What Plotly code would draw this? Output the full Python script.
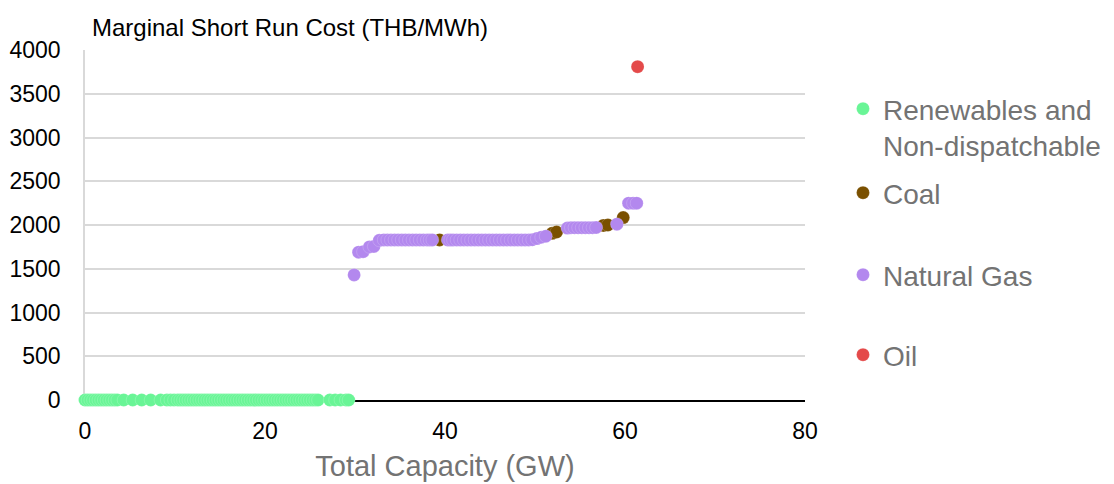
import plotly.graph_objects as go

# ---- data (GW, THB/MWh) ----
ren_x = [0.0, 0.3, 0.6, 0.9, 1.2, 1.5, 1.8, 2.1, 2.4, 2.7, 3.0, 3.3, 3.6,
         4.3, 5.3, 6.3, 7.3, 8.4,
         9.1, 9.5, 9.9, 10.3, 10.6, 10.9, 11.2, 11.5, 11.8, 12.1, 12.4, 12.7,
         13.0, 13.3, 13.6, 13.9, 14.2, 14.5, 14.8, 15.1, 15.4, 15.7, 16.0,
         16.3, 16.6, 16.9, 17.2, 17.5, 17.8, 18.1, 18.4, 18.7, 19.0, 19.3,
         19.6, 19.9, 20.2, 20.5, 20.8, 21.1, 21.4, 21.7, 22.0, 22.3, 22.6,
         22.9, 23.2, 23.5, 23.8, 24.1, 24.4, 24.7, 25.0, 25.3, 25.6, 25.9,
         27.2, 27.8, 28.4, 29.0, 29.3]
ren_y = [0] * len(ren_x)

coal_x = [39.4, 51.9, 52.4, 57.6, 58.1, 59.8]
coal_y = [1830, 1905, 1920, 1995, 2000, 2085]

gas_x = [29.9, 30.4, 30.9, 31.6, 32.1, 32.7,
         33.2, 33.6, 34.0, 34.4, 34.8, 35.2, 35.6, 36.0, 36.4, 36.8, 37.2,
         37.6, 38.0, 38.3, 38.6,
         40.3, 40.6, 40.9, 41.3, 41.7, 42.1, 42.5, 42.9, 43.3, 43.7, 44.1,
         44.5, 44.9, 45.3, 45.7, 46.1, 46.5, 46.9, 47.3, 47.7, 48.1, 48.5,
         48.9, 49.3, 49.7,
         50.2, 50.7, 51.2,
         53.6, 54.0, 54.4, 54.8, 55.2, 55.6, 56.0, 56.4, 56.8,
         59.1,
         60.4, 60.9, 61.3]
gas_y = [1430, 1690, 1695, 1750, 1755, 1825,
         1830, 1830, 1830, 1830, 1830, 1830, 1830, 1830, 1830, 1830, 1830,
         1830, 1830, 1830, 1830,
         1830, 1830, 1830, 1830, 1830, 1830, 1830, 1830, 1830, 1830, 1830,
         1830, 1830, 1830, 1830, 1830, 1830, 1830, 1830, 1830, 1830, 1830,
         1830, 1830, 1832,
         1845, 1860, 1872,
         1965, 1970, 1970, 1970, 1970, 1970, 1970, 1970, 1972,
         2010,
         2250, 2250, 2250]

oil_x = [61.4]
oil_y = [3810]

x_ticks = [0, 20, 40, 60, 80]
y_ticks = [0, 500, 1000, 1500, 2000, 2500, 3000, 3500, 4000]

# ---- styling ----
FONT = "Liberation Sans, Arial, sans-serif"
GREY_TXT = "#737373"
L, R, T, B = 85, 309, 50, 84
W, H = 1114, 484
PW, PH = W - L - R, H - T - B

def py(pix):
    return (H - B - pix) / PH

def px(pix):
    return (pix - L) / PW

series = [
    ("Renewables and<br>Non-dispatchable", ren_x, ren_y, "#69F596", "legend", 127),
    ("Coal", coal_x, coal_y, "#7A5000", "legend2", 193),
    ("Natural Gas", gas_x, gas_y, "#B388EE", "legend3", 275),
    ("Oil", oil_x, oil_y, "#E44A4A", "legend4", 355),
]

fig = go.Figure()
for name, xs, ys, col, leg, _ in series:
    fig.add_trace(go.Scatter(
        x=xs, y=ys, mode="markers", name=name, legend=leg,
        cliponaxis=False,
        marker=dict(size=13, color=col,
                    line=dict(width=0.5, color="rgba(255,255,255,0.35)")),
    ))

legend_common = dict(
    font=dict(family=FONT, size=28, color=GREY_TXT),
    bgcolor="rgba(0,0,0,0)", borderwidth=0,
    xanchor="left", yanchor="middle", valign="top",
    itemsizing="trace",
)
layout_legends = {}
for name, xs, ys, col, leg, ypix in series:
    layout_legends[leg] = dict(legend_common, x=px(843), y=py(ypix))

fig.update_layout(
    width=W, height=H,
    margin=dict(l=L, r=R, t=T, b=B, autoexpand=False),
    paper_bgcolor="white", plot_bgcolor="white",
    font=dict(family=FONT, color="black"),
    showlegend=True,
    **layout_legends,
    xaxis=dict(
        range=[0, 80], tickvals=x_ticks, ticktext=[str(v) for v in x_ticks],
        showgrid=False, zeroline=False, automargin=False,
        showline=True, linecolor="black", linewidth=1.5,
        ticks="", ticklabelstandoff=10,
        tickfont=dict(family=FONT, size=23, color="black"),
        title=dict(text="Total Capacity (GW)", standoff=12,
                   font=dict(family=FONT, size=29, color=GREY_TXT)),
        layer="below traces",
    ),
    yaxis=dict(
        range=[0, 4000], tickvals=y_ticks, ticktext=[str(v) for v in y_ticks],
        showgrid=True, gridcolor="#d9d9d9", gridwidth=1.5, automargin=False,
        zeroline=False, showline=True, linecolor="#d9d9d9", linewidth=1.5,
        ticks="", ticklabelstandoff=18,
        tickfont=dict(family=FONT, size=23, color="black"),
        layer="below traces",
    ),
    annotations=[dict(
        text="Marginal Short Run Cost (THB/MWh)",
        xref="paper", yref="paper", x=px(90), y=py(28),
        xanchor="left", yanchor="middle", showarrow=False,
        font=dict(family=FONT, size=24, color="black"),
    )],
)

fig.write_html("out.html")
